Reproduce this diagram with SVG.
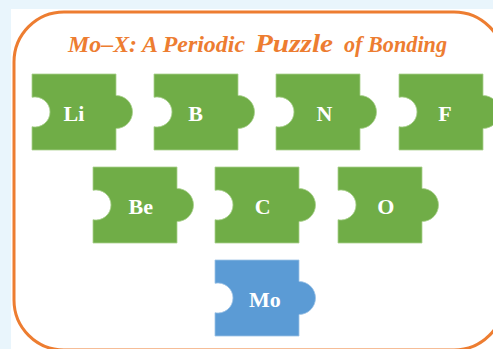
<svg xmlns="http://www.w3.org/2000/svg" xmlns:xlink="http://www.w3.org/1999/xlink" width="493" height="349" viewBox="0 0 493 349">
<style>
.title{font-family:"Liberation Serif","DejaVu Serif",serif;font-weight:bold;font-style:italic;fill:#ed7d31;font-size:23px}
.lbl{font-family:"Liberation Serif","DejaVu Serif",serif;font-weight:bold;fill:#ffffff;font-size:22px;text-anchor:middle}
.green{fill:#70ad47;stroke:#a9d18e;stroke-width:0.8}
.blue{fill:#5b9bd5;stroke:#9dc3e6;stroke-width:0.8}
</style>
<defs>
<path id="piece" d="M0,0 H84 V21.5 A16.5,16.5 0 0 1 84,54.5 V76 H0 V52.7 A15,15 0 1 0 0,23.3 Z"/>
</defs>
<rect x="0" y="0" width="493" height="349" fill="#e9f5fc"/>
<rect x="11" y="9" width="482" height="340" fill="#ffffff"/>
<rect x="14" y="12" width="490" height="338" rx="50" ry="50" fill="none" stroke="#ed7d31" stroke-width="3"/>
<text class="title" y="52"><tspan x="68" textLength="177" lengthAdjust="spacingAndGlyphs">Mo–X: A Periodic</tspan> <tspan x="255" font-size="26" textLength="78" lengthAdjust="spacingAndGlyphs">Puzzle</tspan> <tspan x="344" textLength="103" lengthAdjust="spacingAndGlyphs">of Bonding</tspan></text>
<g id="connectors"></g>
<g id="node-li"><use xlink:href="#piece" href="#piece" class="green" transform="translate(32,74)"/><text class="lbl" x="74" y="120.5">Li</text></g>
<g id="node-b"><use xlink:href="#piece" href="#piece" class="green" transform="translate(154,74)"/><text class="lbl" x="195.5" y="120.5">B</text></g>
<g id="node-n"><use xlink:href="#piece" href="#piece" class="green" transform="translate(276,74)"/><text class="lbl" x="324.5" y="120.5">N</text></g>
<g id="node-f"><use xlink:href="#piece" href="#piece" class="green" transform="translate(399,74)"/><text class="lbl" x="445" y="120.5">F</text></g>
<g id="node-be"><use xlink:href="#piece" href="#piece" class="green" transform="translate(93,167)"/><text class="lbl" x="140.7" y="214">Be</text></g>
<g id="node-c"><use xlink:href="#piece" href="#piece" class="green" transform="translate(215,167)"/><text class="lbl" x="262.7" y="214">C</text></g>
<g id="node-o"><use xlink:href="#piece" href="#piece" class="green" transform="translate(338,167)"/><text class="lbl" x="385.8" y="214">O</text></g>
<g id="node-mo"><use xlink:href="#piece" href="#piece" class="blue" transform="translate(215,260)"/><text class="lbl" x="265" y="306.7">Mo</text></g>
</svg>
